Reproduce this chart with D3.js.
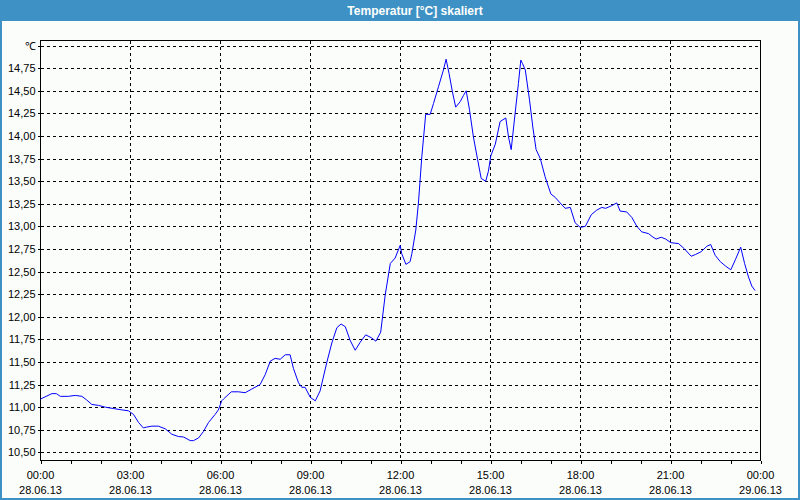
<!DOCTYPE html>
<html><head><meta charset="utf-8">
<script src="https://cdn.jsdelivr.net/npm/d3@7"></script>
<style>
html,body{margin:0;padding:0;background:#fbfdfb;}
svg{display:block;}
text{font-family:"Liberation Sans",Arial,sans-serif;}
</style></head>
<body>
<svg id="c" width="800" height="500"></svg>
<script>
const title = "Temperatur [°C] skaliert";
const hours = [0.00,0.38,0.53,0.66,0.93,1.16,1.38,1.54,1.71,1.93,2.16,2.43,2.71,2.93,3.10,3.27,3.43,3.54,3.71,3.93,4.16,4.38,4.60,4.77,4.99,5.10,5.27,5.43,5.60,5.82,5.93,6.04,6.10,
6.36,6.60,6.82,7.04,7.32,7.49,7.66,7.82,7.99,8.16,8.32,8.43,8.60,8.71,8.82,8.99,9.16,9.32,9.54,9.71,9.88,10.02,10.16,10.32,10.49,10.66,10.84,11.02,11.18,11.34,11.49,11.66,11.82,11.99,
12.04,12.18,12.32,12.38,12.51,12.60,12.71,12.84,12.99,13.10,13.27,13.43,13.52,13.62,13.73,13.84,13.99,14.10,14.19,14.30,14.43,14.57,14.69,14.84,14.93,15.01,15.16,15.32,15.51,15.60,15.69,15.82,15.93,16.01,16.07,16.16,16.30,16.41,16.52,16.66,16.82,17.01,17.16,17.32,17.49,17.66,17.82,17.99,
18.16,18.36,18.54,18.71,18.84,19.04,19.21,19.32,19.54,19.71,19.88,20.04,20.27,20.38,20.52,20.69,20.84,21.01,21.27,21.47,21.69,21.84,22.02,22.21,22.34,22.49,22.66,22.84,23.01,23.16,23.34,23.47,23.60,23.71,23.82];
const temps = [11.09,11.15,11.15,11.12,11.12,11.13,11.12,11.08,11.03,11.02,11.00,10.985,10.97,10.96,10.92,10.83,10.77,10.78,10.79,10.79,10.76,10.70,10.675,10.67,10.63,10.63,10.66,10.73,10.83,10.92,10.97,11.07,11.09,
11.17,11.17,11.16,11.20,11.25,11.36,11.51,11.54,11.53,11.58,11.58,11.43,11.27,11.22,11.22,11.11,11.07,11.18,11.49,11.71,11.88,11.92,11.89,11.74,11.63,11.72,11.80,11.77,11.73,11.83,12.24,12.59,12.65,12.79,
12.70,12.58,12.61,12.70,12.96,13.27,13.77,14.24,14.24,14.36,14.55,14.73,14.85,14.69,14.49,14.32,14.38,14.45,14.50,14.29,13.99,13.74,13.53,13.50,13.61,13.78,13.91,14.16,14.20,13.99,13.85,14.25,14.58,14.84,14.80,14.73,14.40,14.10,13.85,13.75,13.55,13.36,13.32,13.26,13.20,13.21,13.04,12.99,
13.00,13.13,13.18,13.21,13.20,13.23,13.26,13.17,13.16,13.10,13.00,12.94,12.92,12.89,12.86,12.88,12.86,12.82,12.81,12.75,12.67,12.69,12.72,12.78,12.80,12.68,12.61,12.56,12.52,12.63,12.77,12.59,12.44,12.34,12.29];
const yTicks = [10.5,10.75,11.0,11.25,11.5,11.75,12.0,12.25,12.5,12.75,13.0,13.25,13.5,13.75,14.0,14.25,14.5,14.75,15.0];
const yUnit = "℃";
const xMajor = [0,3,6,9,12,15,18,21,24];
const xTimeLabels = ["00:00","03:00","06:00","09:00","12:00","15:00","18:00","21:00","00:00"];
const xDateLabels = ["28.06.13","28.06.13","28.06.13","28.06.13","28.06.13","28.06.13","28.06.13","28.06.13","29.06.13"];

const svg = d3.select("#c");
const L = 40.5, R = 760.5, T = 40.5, B = 460.5;
const x = d3.scaleLinear().domain([0,24]).range([L,R]);
const y = d3.scaleLinear().domain([10.41,15.057]).range([B,T]);
const blue = "#3d91c4";

// title bar + window border
svg.append("rect").attr("x",0).attr("y",0).attr("width",800).attr("height",21).attr("fill",blue);
svg.append("text").attr("x",415).attr("y",15).attr("text-anchor","middle")
  .attr("fill","#fff").attr("font-weight","bold").attr("font-size","12px").text(title);
svg.append("rect").attr("x",1).attr("y",1).attr("width",798).attr("height",498)
  .attr("fill","none").attr("stroke",blue).attr("stroke-width",2);

// grid
const g = svg.append("g");
g.selectAll("line.h").data(yTicks).join("line")
  .attr("x1",L).attr("x2",R).attr("y1",d=>Math.round(y(d))+0.5).attr("y2",d=>Math.round(y(d))+0.5)
  .attr("stroke","#000").attr("stroke-dasharray","3,3").attr("shape-rendering","crispEdges");
g.selectAll("line.v").data(xMajor).join("line")
  .attr("y1",T).attr("y2",B).attr("x1",d=>x(d)).attr("x2",d=>x(d))
  .attr("stroke","#000").attr("stroke-dasharray","3,3").attr("shape-rendering","crispEdges");

// axes
const yAxis = d3.axisLeft(y).tickValues(yTicks).tickSize(3).tickPadding(2)
  .tickFormat(d => d===15 ? yUnit : d3.format(".2f")(d).replace(".",","));
const ya = svg.append("g").attr("transform",`translate(${L},0)`).call(yAxis);
ya.select(".domain").remove();
ya.selectAll("line").attr("stroke","#000").attr("shape-rendering","crispEdges");
ya.selectAll(".tick").attr("transform",d=>`translate(0,${Math.round(y(d))+0.5})`);
ya.selectAll("text").attr("font-family","Liberation Sans, Arial, sans-serif").attr("font-size","11px").attr("fill","#000");

const xAxis = d3.axisBottom(x).tickValues(d3.range(0,25)).tickSize(3).tickFormat("");
const xa = svg.append("g").attr("transform",`translate(0,${B})`).call(xAxis);
xa.select(".domain").remove();
xa.selectAll("line").attr("stroke","#000").attr("shape-rendering","crispEdges");

const lab = svg.append("g").attr("font-size","11px").attr("fill","#000").attr("text-anchor","middle");
lab.selectAll("text.t").data(xMajor).join("text").attr("x",d=>x(d)).attr("y",479).text((d,i)=>xTimeLabels[i]);
lab.selectAll("text.d").data(xMajor).join("text").attr("x",d=>x(d)).attr("y",494).text((d,i)=>xDateLabels[i]);

// frame
svg.append("rect").attr("x",L).attr("y",T).attr("width",R-L).attr("height",B-T)
  .attr("fill","none").attr("stroke","#000").attr("shape-rendering","crispEdges");

// series
const line = d3.line().x((d,i)=>x(hours[i])).y(d=>y(d));
svg.append("path").datum(temps).attr("d",line).attr("fill","none").attr("stroke","#0000ff").attr("stroke-width",1);
</script>
</body></html>
